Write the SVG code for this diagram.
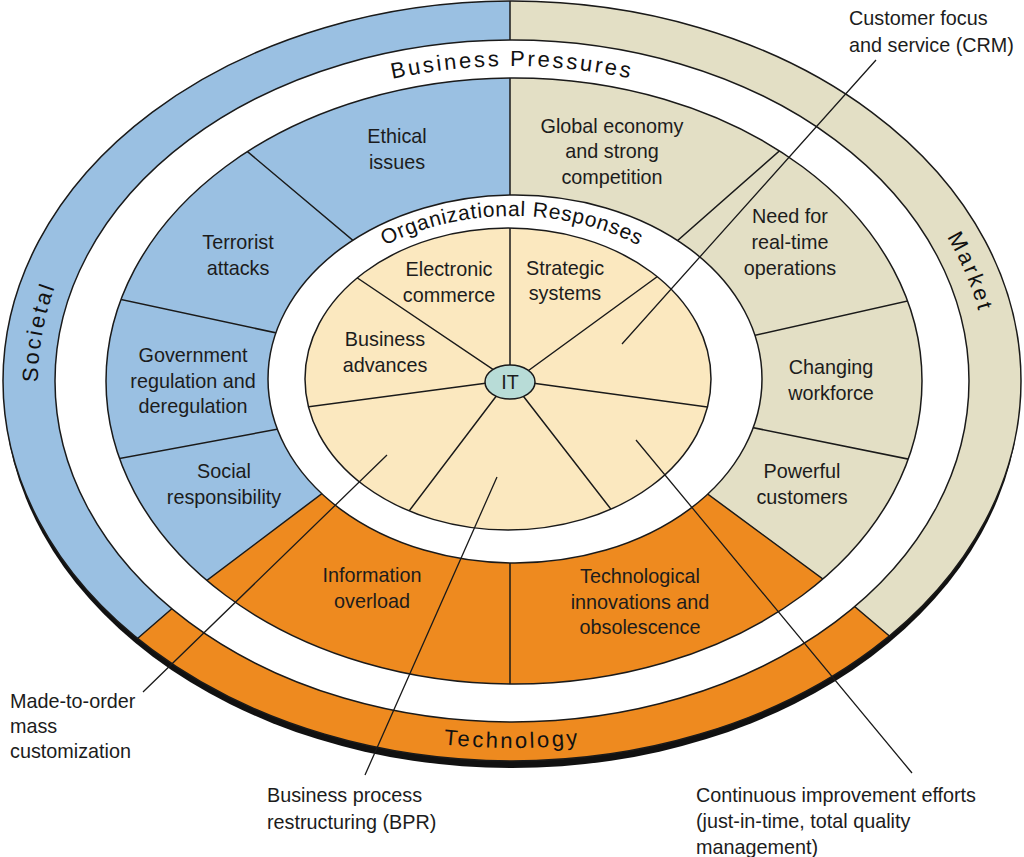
<svg xmlns="http://www.w3.org/2000/svg" width="1024" height="857" viewBox="0 0 1024 857">
<style>
.s{stroke:#1a1a1a;stroke-width:1.5}
.n{fill:none}
.t{font-family:"Liberation Sans",Arial,sans-serif;font-size:19.8px;fill:#1c1c1c;text-anchor:middle}
.l{text-anchor:start}
.band{font-family:"Liberation Sans",Arial,sans-serif;font-size:22px;fill:#111;letter-spacing:2.6px}
.or{font-family:"Liberation Sans",Arial,sans-serif;font-size:21px;fill:#111;letter-spacing:0.7px}
.blue{fill:#9ac0e2}
.beige{fill:#e3dfc5}
.orange{fill:#ee8a1f}
</style>
<defs>
<clipPath id="cE1"><ellipse cx="512" cy="381" rx="509" ry="380"/></clipPath>
<clipPath id="cE3"><ellipse cx="514" cy="381" rx="408" ry="303"/></clipPath>
<clipPath id="cE5"><ellipse cx="508" cy="379" rx="203" ry="151"/></clipPath>
<path id="pBP" d="M87,381 A425,315 0 0 1 937,381"/>
<path id="pOR" d="M291,379 A221,163 0 0 1 733,379"/>
<path id="pSoc" d="M512,735 A474,354 0 0 1 512,27"/>
<path id="pMkt" d="M512,26 A476,355 0 0 1 512,736"/>
<path id="pTech" d="M21,381 A491,367 0 0 0 1003,381"/>
</defs>
<rect width="1024" height="857" fill="#fff"/>

<g id="outer-band">
<ellipse cx="512" cy="388" rx="508" ry="380" fill="#111"/>
<g clip-path="url(#cE1)">
<rect x="0" y="0" width="1024" height="857" class="orange"/>
<polygon class="blue" points="510,-10 -50,-10 -50,802 170,610 510,381"/>
<polygon class="beige" points="510,-10 1080,-10 1080,798 858,609 510,381"/>
<path class="s n" d="M510,-5V45 M130,645 L175,606 M900,645 L854,606"/>
</g>
<ellipse cx="512" cy="381" rx="509" ry="380" class="s n"/>
<text class="band"><textPath href="#pSoc" startOffset="53.7%" text-anchor="middle">Societal</textPath></text>
<text class="band"><textPath href="#pMkt" startOffset="41.6%" text-anchor="middle">Market</textPath></text>
<text class="band"><textPath href="#pTech" startOffset="50%" text-anchor="middle">Technology</textPath></text>
</g>

<g id="business-pressures-ring">
<ellipse cx="512" cy="381" rx="457" ry="341" fill="#fff" class="s"/>
<text class="band"><textPath href="#pBP" startOffset="50%" text-anchor="middle">Business Pressures</textPath></text>
</g>

<g id="pressures">
<g clip-path="url(#cE3)">
<rect x="0" y="0" width="1024" height="857" class="orange"/>
<polygon class="blue" points="510,70 100,70 100,661 320,495 510,381"/>
<polygon class="beige" points="510,70 930,70 930,658 700,488 510,381"/>
<path class="s n" d="M510,70V700 M217,126 L400,280 M100,295 L300,338 M100,462 L300,425 M100,661 L340,480 M930,658 L690,481 M930,463.5 L740,425 M930,296 L730,341 M810,124 L660,256"/>
</g>
<ellipse cx="514" cy="381" rx="408" ry="303" class="s n"/>
</g>

<g id="org-ring">
<ellipse cx="515" cy="379" rx="247" ry="184" fill="#fff" class="s"/>
<text class="or"><textPath href="#pOR" startOffset="50%" text-anchor="middle">Organizational Responses</textPath></text>
</g>

<g id="org-responses">
<ellipse cx="508" cy="379" rx="203" ry="151" fill="#fbe8bf" class="s"/>
<g clip-path="url(#cE5)">
<path class="s n" d="M510,382V220 M510,381 L350,273 M510,384 L665,271 M510,380 L300,408 M510,380 L715,408 M510,378 L403,519 M510,379 L617,517"/>
</g>
</g>

<g id="it">
<ellipse cx="510" cy="382" rx="25" ry="17" fill="#b8dcd7" class="s"/>
<text class="t" x="510" y="389">IT</text>
</g>

<g id="connectors">
<path class="s n" style="stroke-width:1.3" d="M622,344 L876,60 M387,455 L143,692 M497,477 L365,775 M636,440 L912,773"/>
</g>

<g id="labels-pressures">
<g id="ethical"><text class="t" x="397" y="143">Ethical<tspan x="397" y="169">issues</tspan></text></g>
<g id="terrorist"><text class="t" x="238" y="249">Terrorist<tspan x="238" y="275">attacks</tspan></text></g>
<g id="government"><text class="t" x="193" y="362">Government<tspan x="193" y="388">regulation and</tspan><tspan x="193" y="413">deregulation</tspan></text></g>
<g id="social"><text class="t" x="224" y="478">Social<tspan x="224" y="504">responsibility</tspan></text></g>
<g id="global"><text class="t" x="612" y="133">Global economy<tspan x="612" y="158">and strong</tspan><tspan x="612" y="184">competition</tspan></text></g>
<g id="realtime"><text class="t" x="790" y="223">Need for<tspan x="790" y="249">real-time</tspan><tspan x="790" y="275">operations</tspan></text></g>
<g id="workforce"><text class="t" x="831" y="374">Changing<tspan x="831" y="400">workforce</tspan></text></g>
<g id="customers"><text class="t" x="802" y="478">Powerful<tspan x="802" y="504">customers</tspan></text></g>
<g id="overload"><text class="t" x="372" y="582">Information<tspan x="372" y="608">overload</tspan></text></g>
<g id="techinnov"><text class="t" x="640" y="583">Technological<tspan x="640" y="609">innovations and</tspan><tspan x="640" y="634">obsolescence</tspan></text></g>
</g>

<g id="labels-responses">
<g id="ecommerce"><text class="t" x="449" y="276">Electronic<tspan x="449" y="302">commerce</tspan></text></g>
<g id="strategic"><text class="t" x="565" y="275">Strategic<tspan x="565" y="300">systems</tspan></text></g>
<g id="advances"><text class="t" x="385" y="346">Business<tspan x="385" y="372">advances</tspan></text></g>
</g>

<g id="callouts">
<g id="crm"><text class="t l" x="849" y="25">Customer focus<tspan x="849" y="52">and service (CRM)</tspan></text></g>
<g id="mto"><text class="t l" x="10" y="708">Made-to-order<tspan x="10" y="733">mass</tspan><tspan x="10" y="758">customization</tspan></text></g>
<g id="bpr"><text class="t l" x="267" y="802">Business process<tspan x="267" y="829">restructuring (BPR)</tspan></text></g>
<g id="cie"><text class="t l" x="696" y="802">Continuous improvement efforts<tspan x="696" y="828">(just-in-time, total quality</tspan><tspan x="696" y="854">management)</tspan></text></g>
</g>
</svg>
